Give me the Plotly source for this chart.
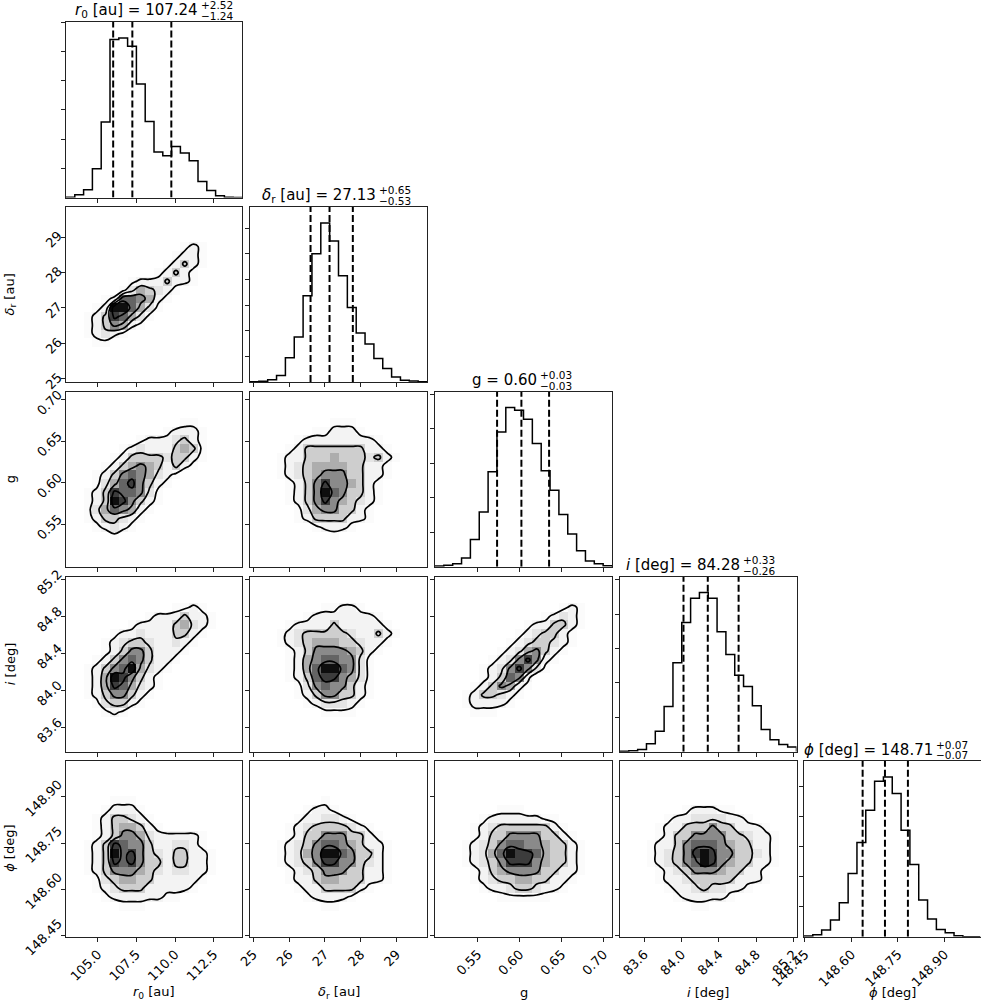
import numpy as np
import plotly.graph_objects as go

W, H = 981, 1002

# ---------------- data ----------------
param_labels = ["<i>r</i><sub>0</sub> [au]", "<i>δ</i><sub>r</sub> [au]", "g",
                "<i>i</i> [deg]", "<i>ϕ</i> [deg]"]
param_lims = [(102.95, 114.33), (24.91, 29.85), (0.499, 0.710),
              (83.34, 85.23), (148.447, 149.016)]
medians_txt = ["107.24", "27.13", "0.60", "84.28", "148.71"]
err_plus_txt = ["+2.52", "+0.65", "+0.03", "+0.33", "+0.07"]
err_minus_txt = ["−1.24", "−0.53", "−0.03", "−0.26", "−0.07"]
q_lo = [106.00, 26.60, 0.573, 84.02, 148.636]
q_med = [107.24, 27.13, 0.602, 84.28, 148.708]
q_hi = [109.76, 27.78, 0.635, 84.61, 148.782]

tick_vals = [[105.0, 107.5, 110.0, 112.5], [25, 26, 27, 28, 29],
             [0.55, 0.60, 0.65, 0.70], [83.6, 84.0, 84.4, 84.8, 85.2],
             [148.45, 148.60, 148.75, 148.90]]
tick_text = [["105.0", "107.5", "110.0", "112.5"], ["25", "26", "27", "28", "29"],
             ["0.55", "0.60", "0.65", "0.70"], ["83.6", "84.0", "84.4", "84.8", "85.2"],
             ["148.45", "148.60", "148.75", "148.90"]]

hist_r0 = [1, 8, 23, 86, 226, 473, 478, 453, 340, 228, 136, 125, 153, 133, 110, 48, 21, 5, 1, 0]
hist_dr = [1, 2, 7, 20, 73, 136, 261, 388, 481, 426, 321, 225, 148, 115, 71, 41, 15, 5, 3, 1]
hist_g = [2, 4, 9, 26, 82, 164, 285, 405, 478, 470, 443, 370, 288, 230, 157, 98, 48, 17, 9, 3]
hist_i = [1, 3, 7, 24, 62, 137, 269, 391, 464, 481, 464, 363, 294, 231, 197, 139, 67, 36, 22, 14]
hist_phi = [2, 6, 20, 50, 102, 190, 283, 380, 467, 480, 430, 320, 217, 110, 53, 22, 12, 3, 0, 0]
hists = [hist_r0, hist_dr, hist_g, hist_i, hist_phi]
hist_tick_step = [87.5, 77.5, 103.5, 104.0, 90.0]

# 2D density grids (20x20 bins, top row = highest y value), 0..9 darkness
Z = "0" * 20
dens_dr_r0 = [Z, Z, Z, Z,
    "00000000000001210000", "00000000000012210000", "00000000000124210000",
    "00000000001242100000", "00000001222422100000", "00000013543210000000",
    "00001277652100000000", "00012997531000000000", "00124875310000000000",
    "00124652100000000000", "00123210000000000000", "00011000000000000000",
    Z, Z, Z, Z]
dens_g_r0 = [Z, Z, Z,
    "00000000000001100000", "00000000000122210000", "00000000122234210000",
    "00000012322245410000", "00000124444344210000", "00001245654242100000",
    "00012467653210000000", "00013578642100000000", "00124877631000000000",
    "00124986421000000000", "00135765210000000000", "00124432100000000000",
    "00012321000000000000", "00000100000000000000", Z, Z, Z]
dens_g_dr = [Z, Z, Z,
    "00000000011100000000", "00000001122210000000", "00000122222222100000",
    "00001244444442210000", "00012244454443421000", "00012345555442210000",
    "00012345666442210000", "00001246866542100000", "00001246976442100000",
    "00001246865432100000", "00000135664421000000", "00000124444221000000",
    "00000001222100000000", "00000000010000000000", Z, Z, Z]
dens_i_r0 = [Z, Z, Z,
    "00000000000011210000", "00000000012224221000", "00000001222245321000",
    "00000122322244210000", "00001234432232100000", "00001246642221000000",
    "00012467642210000000", "00124679532100000000", "00125986421000000000",
    "00125875321000000000", "00124664210000000000", "00013442100000000000",
    "00001210000000000000", Z, Z, Z, Z]
dens_i_dr = [Z, Z, Z,
    "00000000112210000000", "00000012222222100000", "00001222242222210000",
    "00012344444322421000", "00012345554432210000", "00001246666542100000",
    "00001256776631000000", "00001257997631000000", "00001247886531000000",
    "00000136766421000000", "00000124664421000000", "00000012333210000000",
    "00000000111100000000", Z, Z, Z, Z]
dens_i_g = [Z, Z, Z,
    "00000000000000121000", "00000000000012321000", "00000000001224421000",
    "00000000012344210000", "00000000123443210000", "00000001235642100000",
    "00000012368621000000", "00000123686310000000", "00000124762000000000",
    "00001246521000000000", "00012443210000000000", "00012222100000000000",
    "00001110000000000000", Z, Z, Z, Z]
dens_phi_r0 = [Z, Z, Z, Z,
    "00000111000000000000", "00001222100000000000", "00012443210000000000",
    "00012455421000000000", "00012466532222210000", "00124876642233210000",
    "00124978643244221000", "00124878644244221000", "00124666543233221000",
    "00013455442222210000", "00012344422222100000", "00001222222110000000",
    "00000011100000000000", Z, Z, Z]
dens_phi_dr = [Z, Z, Z, Z,
    "00000000100000000000", "00000012210000000000", "00000122332100000000",
    "00001234444321000000", "00001244666442100000", "00012346776542210000",
    "00012356997644210000", "00012346886643210000", "00001234666442210000",
    "00001224554442210000", "00000122444421000000", "00000012222100000000",
    "00000000110000000000", Z, Z, Z]
dens_phi_g = [Z, Z, Z, Z, Z,
    "00000001110000000000", "00000122222211000000", "00001234444442100000",
    "00001244666644210000", "00012346776654421000", "00012357988754421000",
    "00012346888654421000", "00001245666644221000", "00001234455442210000",
    "00000122344322100000", "00000001111110000000", Z, Z, Z, Z]
dens_phi_i = [Z, Z, Z, Z, Z,
    "00000001222110000000", "00000122333322100000", "00001224446442221000",
    "00001244666644322100", "00012246777654422100", "00012346898664432100",
    "00012346798654422100", "00001234666544221000", "00001223444442221000",
    "00000122343322100000", "00000012222210000000", "00000000110000000000",
    Z, Z, Z]

dens_panels = {(1, 0): dens_dr_r0, (2, 0): dens_g_r0, (2, 1): dens_g_dr,
               (3, 0): dens_i_r0, (3, 1): dens_i_dr, (3, 2): dens_i_g,
               (4, 0): dens_phi_r0, (4, 1): dens_phi_dr, (4, 2): dens_phi_g,
               (4, 3): dens_phi_i}

# ---------------- layout geometry (pixels) ----------------
col_px = [(66, 242), (250, 427), (435, 612), (620, 796.5), (804, 980.5)]
row_px = [(22, 197.5), (207, 382), (391.7, 566.7), (576.7, 751.7), (761, 936.7)]
title_split_px = [200, 378, 539, 742, 935]
ylabel_shift = [0, -3, -7, -7, -14]

NB = 20
gray_scale = [[0, '#ffffff'], [1/9, '#fbfbfb'], [2/9, '#f3f3f3'], [3/9, '#e4e4e4'],
              [4/9, '#cecece'], [5/9, '#adadad'], [6/9, '#8a8a8a'], [7/9, '#646464'],
              [8/9, '#3c3c3c'], [1, '#0e0e0e']]

FONT = "DejaVu Sans"
fig = go.Figure()
layout = dict(width=W, height=H, margin=dict(l=0, r=0, t=0, b=0, autoexpand=False),
              paper_bgcolor='white', plot_bgcolor='white', showlegend=False,
              font=dict(family=FONT, size=13, color='black'))
annotations = []

axis_common = dict(showline=True, mirror=True, linecolor='#222', linewidth=1.2,
                   ticks='outside', ticklen=4, tickwidth=1, tickcolor='#222',
                   showgrid=False, zeroline=False, tickangle=-45, automargin=False,
                   tickfont=dict(family=FONT, size=13, color='black'))

n = 0
for r in range(5):
    for c in range(r + 1):
        n += 1
        xs = '' if n == 1 else str(n)
        x0, x1 = col_px[c]
        y0, y1 = row_px[r]
        xlo, xhi = param_lims[c]
        xa = dict(axis_common, domain=[x0 / W, x1 / W], range=[xlo, xhi],
                  anchor='y' + xs, tickmode='array', tickvals=tick_vals[c],
                  ticktext=tick_text[c], showticklabels=(r == 4))
        if r == c:
            h = hists[c]
            ymax = 1.1 * max(h)
            step = hist_tick_step[c]
            tv = [step * k for k in range(1, 10) if step * k < ymax]
            ya = dict(axis_common, domain=[1 - y1 / H, 1 - y0 / H], range=[0, ymax],
                      anchor='x' + xs, tickmode='array', tickvals=tv, showticklabels=False)
            edges = np.linspace(xlo, xhi, NB + 1)
            sx = [edges[0]] + list(edges[:NB]) + [edges[NB], edges[NB]]
            sy = [0] + list(h) + [h[-1], 0]
            fig.add_trace(go.Scatter(x=sx, y=sy, mode='lines', line=dict(color='black', width=1.5, shape='hv'),
                                     xaxis='x' + xs, yaxis='y' + xs, hoverinfo='skip'))
            for q in (q_lo[c], q_med[c], q_hi[c]):
                fig.add_trace(go.Scatter(x=[q, q], y=[0, ymax], mode='lines',
                                         line=dict(color='black', width=2, dash='7px,3px'),
                                         xaxis='x' + xs, yaxis='y' + xs, hoverinfo='skip'))
            # title
            sp = title_split_px[c]
            annotations.append(dict(text=f"{param_labels[c]} = {medians_txt[c]}", xref='paper', yref='paper',
                                    x=sp / W, y=1 - (y0 - 11.5) / H, xanchor='right', yanchor='middle',
                                    showarrow=False, font=dict(family=FONT, size=15, color='black')))
            annotations.append(dict(text=err_plus_txt[c], xref='paper', yref='paper',
                                    x=(sp - 1) / W, y=1 - (y0 - 16.5) / H, xanchor='left', yanchor='middle',
                                    showarrow=False, font=dict(family=FONT, size=10.5, color='black')))
            annotations.append(dict(text=err_minus_txt[c], xref='paper', yref='paper',
                                    x=(sp - 1) / W, y=1 - (y0 - 6) / H, xanchor='left', yanchor='middle',
                                    showarrow=False, font=dict(family=FONT, size=10.5, color='black')))
        else:
            ylo, yhi = param_lims[r]
            ya = dict(axis_common, domain=[1 - y1 / H, 1 - y0 / H], range=[ylo, yhi],
                      anchor='x' + xs, tickmode='array', tickvals=tick_vals[r],
                      ticktext=tick_text[r], showticklabels=(c == 0),
                      ticklabelshift=ylabel_shift[r])
            zgrid = np.array([[int(ch) for ch in row] for row in dens_panels[(r, c)]], dtype=float)[::-1]
            xc = xlo + (np.arange(NB) + 0.5) * (xhi - xlo) / NB
            yc = ylo + (np.arange(NB) + 0.5) * (yhi - ylo) / NB
            fig.add_trace(go.Heatmap(x=xc, y=yc, z=zgrid, zmin=0, zmax=9, colorscale=gray_scale,
                                     showscale=False, zsmooth=False, xaxis='x' + xs, yaxis='y' + xs,
                                     hoverinfo='skip'))
            fig.add_trace(go.Contour(x=xc, y=yc, z=zgrid, showscale=False,
                                     contours=dict(coloring='none', start=1.5, end=7.5, size=2),
                                     line=dict(color='black', width=1.7, smoothing=1.2),
                                     xaxis='x' + xs, yaxis='y' + xs, hoverinfo='skip'))
        layout['xaxis' + xs] = xa
        layout['yaxis' + xs] = ya

# axis labels
for c in range(5):
    annotations.append(dict(text=param_labels[c], xref='paper', yref='paper',
                            x=(col_px[c][0] + col_px[c][1]) / 2 / W, y=1 - 992 / H,
                            xanchor='center', yanchor='middle', showarrow=False,
                            font=dict(family=FONT, size=13, color='black')))
for r in range(1, 5):
    annotations.append(dict(text=param_labels[r], xref='paper', yref='paper',
                            x=10 / W, y=1 - (row_px[r][0] + row_px[r][1]) / 2 / H,
                            xanchor='center', yanchor='middle', textangle=-90, showarrow=False,
                            font=dict(family=FONT, size=13, color='black')))

layout['annotations'] = annotations
fig.update_layout(**layout)
fig.write_html("out.html", config={'displayModeBar': False},
               post_script="document.body.style.margin='0';document.body.style.overflow='hidden';")
